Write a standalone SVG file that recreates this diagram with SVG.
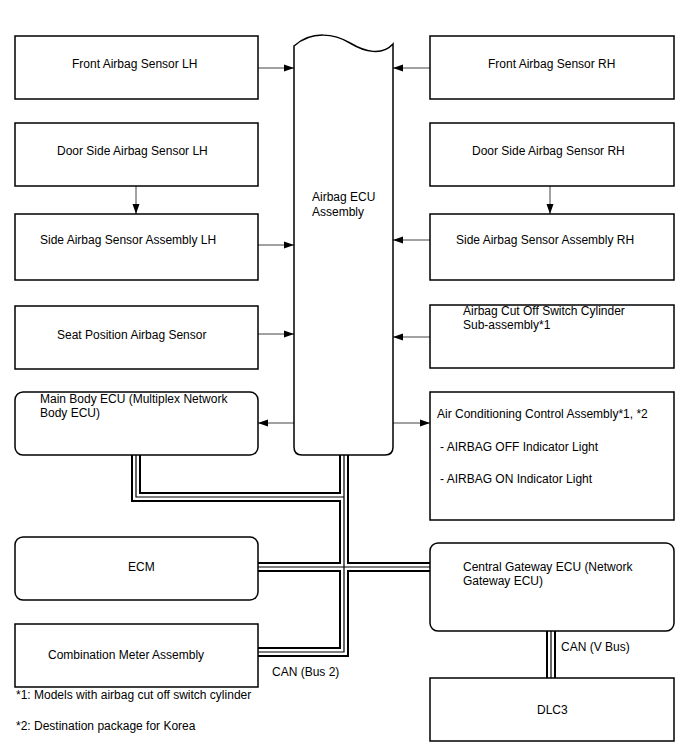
<svg xmlns="http://www.w3.org/2000/svg" width="688" height="755" viewBox="0 0 688 755">
<style>
text{font-family:"Liberation Sans",Arial,sans-serif;font-size:12px;fill:#000}
.box{fill:#fff;stroke:#000;stroke-width:1.5}
.ar{stroke:#444;stroke-width:1;fill:none;marker-end:url(#ah)}
.b1{stroke:#000;stroke-width:10;fill:none;stroke-linejoin:miter}
.b2{stroke:#fff;stroke-width:6;fill:none;stroke-linejoin:miter}
.b3{stroke:#000;stroke-width:1.2;fill:none;stroke-linejoin:miter}
</style>
<defs>
<marker id="ah" markerWidth="10" markerHeight="8" refX="10" refY="4" orient="auto" markerUnits="userSpaceOnUse">
<path d="M0,0.5 L10,4 L0,7.5 Z" fill="#000"/>
</marker>
</defs>
<g id="connectors">
<g id="buses">
<path class="b1" d="M136,455 V497 H344"/>
<path class="b1" d="M344,455 V652 H258"/>
<path class="b1" d="M258,567 H430"/>
<path class="b1" d="M551,631 V678"/>
<path class="b2" d="M136,455 V497 H344"/>
<path class="b2" d="M344,455 V652 H258"/>
<path class="b2" d="M258,567 H430"/>
<path class="b2" d="M551,631 V678"/>
<path class="b3" d="M136,455 V497 H344"/>
<path class="b3" d="M344,455 V652 H258"/>
<path class="b3" d="M258,567 H430"/>
<path class="b3" d="M551,631 V678"/>
</g>
<path class="ar" d="M258,68 H294"/>
<path class="ar" d="M258,245 H294"/>
<path class="ar" d="M258,334 H294"/>
<path class="ar" d="M430,68 H393"/>
<path class="ar" d="M430,240 H393"/>
<path class="ar" d="M430,337 H393"/>
<path class="ar" d="M294,423 H258"/>
<path class="ar" d="M393,423 H430"/>
<path class="ar" d="M136,186 V214"/>
<path class="ar" d="M550,186 V214"/>
<text x="272" y="676">CAN (Bus 2)</text>
<text x="561" y="651">CAN (V Bus)</text>
</g>
<g id="ecu">
<path class="box" d="M294,46 C312,30 335,34 350,43 C365,52 382,56 393,44 V447 Q393,455 385,455 H302 Q294,455 294,447 Z"/>
<text x="312" y="201">Airbag ECU</text>
<text x="312" y="216">Assembly</text>
</g>
<g id="front-lh"><rect class="box" x="15" y="36" width="243" height="63"/><text x="72" y="68">Front Airbag Sensor LH</text></g>
<g id="door-lh"><rect class="box" x="15" y="123" width="243" height="63"/><text x="57" y="155">Door Side Airbag Sensor LH</text></g>
<g id="side-lh"><rect class="box" x="15" y="214" width="243" height="66"/><text x="40" y="244">Side Airbag Sensor Assembly LH</text></g>
<g id="seat"><rect class="box" x="15" y="306" width="243" height="63"/><text x="57" y="339">Seat Position Airbag Sensor</text></g>
<g id="main-body"><rect class="box" x="15" y="392" width="243" height="63" rx="8"/><text x="40" y="403">Main Body ECU (Multiplex Network</text><text x="40" y="417">Body ECU)</text></g>
<g id="ecm"><rect class="box" x="15" y="537" width="243" height="63" rx="8"/><text x="128" y="571">ECM</text></g>
<g id="meter"><rect class="box" x="15" y="624" width="243" height="63"/><text x="48" y="659">Combination Meter Assembly</text></g>
<g id="front-rh"><rect class="box" x="430" y="36" width="244" height="63"/><text x="488" y="68">Front Airbag Sensor RH</text></g>
<g id="door-rh"><rect class="box" x="430" y="123" width="244" height="63"/><text x="472" y="155">Door Side Airbag Sensor RH</text></g>
<g id="side-rh"><rect class="box" x="430" y="214" width="244" height="66"/><text x="456" y="244">Side Airbag Sensor Assembly RH</text></g>
<g id="cutoff"><rect class="box" x="430" y="305" width="244" height="63"/><text x="463" y="315">Airbag Cut Off Switch Cylinder</text><text x="463" y="329">Sub-assembly*1</text></g>
<g id="ac"><rect class="box" x="430" y="392" width="244" height="128"/><text x="437" y="418">Air Conditioning Control Assembly*1, *2</text><text x="440" y="451">- AIRBAG OFF Indicator Light</text><text x="440" y="483">- AIRBAG ON Indicator Light</text></g>
<g id="gateway"><rect class="box" x="430" y="543" width="244" height="88" rx="8"/><text x="463" y="571">Central Gateway ECU (Network</text><text x="463" y="585">Gateway ECU)</text></g>
<g id="dlc3"><rect class="box" x="430" y="678" width="244" height="63"/><text x="537" y="714">DLC3</text></g>
<g id="notes">
<text x="16" y="699">*1: Models with airbag cut off switch cylinder</text>
<text x="16" y="730">*2: Destination package for Korea</text>
</g>
</svg>
